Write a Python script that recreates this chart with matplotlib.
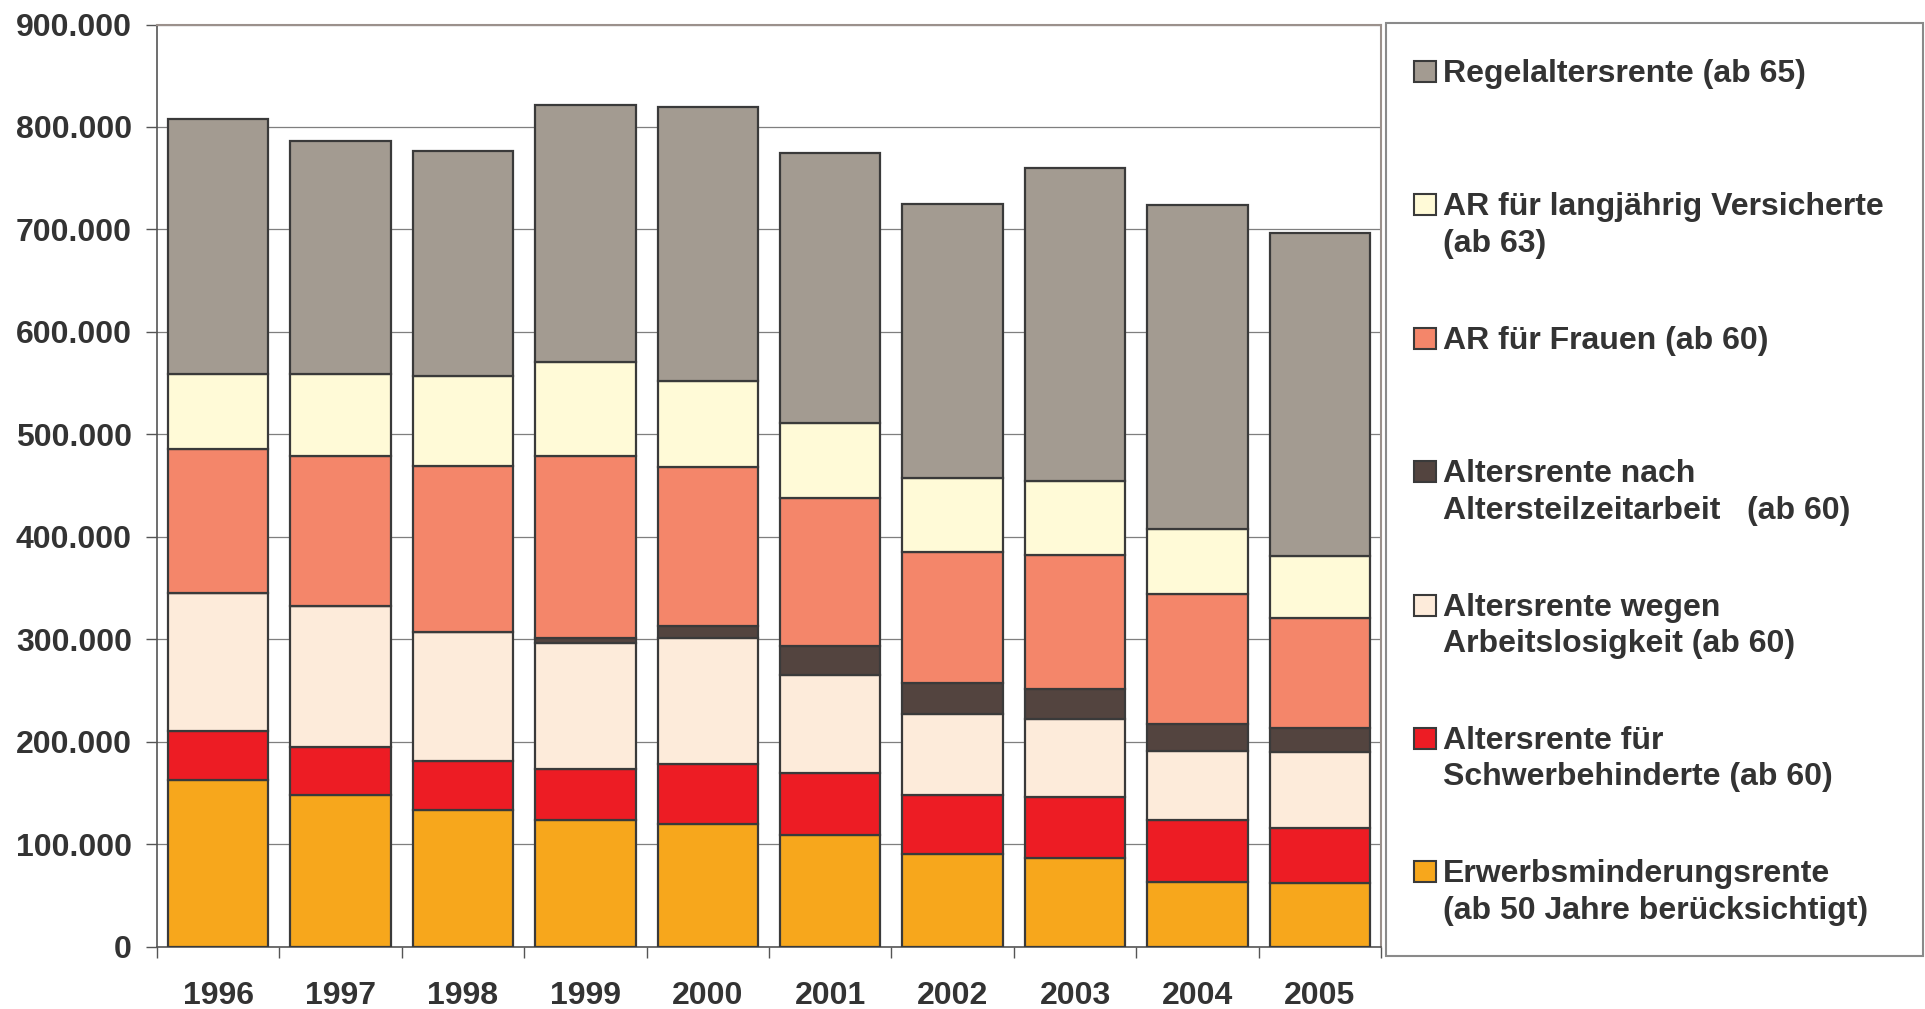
import matplotlib
matplotlib.use('Agg')
import matplotlib.pyplot as plt
from matplotlib.patches import Rectangle
from matplotlib.ticker import FuncFormatter
import numpy as np

# ---------------- data (values in persons) ----------------
years = ['1996', '1997', '1998', '1999', '2000', '2001', '2002', '2003', '2004', '2005']
erwerbsminderung = [163000, 148000, 133000, 123000, 120000, 109000, 90000, 86000, 63000, 62000]
schwerbehinderte = [47000, 47000, 48000, 50000, 58000, 60000, 58000, 60000, 60000, 54000]
arbeitslosigkeit = [135000, 137000, 126000, 123000, 123000, 96000, 79000, 76000, 68000, 74000]
altersteilzeit = [0, 0, 0, 5000, 12000, 28000, 30000, 29000, 26000, 23000]
frauen = [141000, 147000, 162000, 178000, 155000, 145000, 128000, 131000, 127000, 108000]
langjaehrig = [73000, 80000, 88000, 92000, 84000, 73000, 72000, 72000, 64000, 60000]
regel = [249000, 227000, 220000, 250000, 267000, 264000, 268000, 306000, 316000, 315000]

labels = {
    'regel': ['Regelaltersrente (ab 65)'],
    'langjaehrig': ['AR für langjährig Versicherte', '(ab 63)'],
    'frauen': ['AR für Frauen (ab 60)'],
    'altersteilzeit': ['Altersrente nach', 'Altersteilzeitarbeit   (ab 60)'],
    'arbeitslosigkeit': ['Altersrente wegen', 'Arbeitslosigkeit (ab 60)'],
    'schwerbehinderte': ['Altersrente für', 'Schwerbehinderte (ab 60)'],
    'erwerbsminderung': ['Erwerbsminderungsrente', '(ab 50 Jahre berücksichtigt)'],
}
colors = {
    'erwerbsminderung': '#F7A71C',
    'schwerbehinderte': '#ED1C24',
    'arbeitslosigkeit': '#FDEBDA',
    'altersteilzeit': '#53443F',
    'frauen': '#F4866A',
    'langjaehrig': '#FFFAD7',
    'regel': '#A39B91',
}
series = {
    'erwerbsminderung': erwerbsminderung,
    'schwerbehinderte': schwerbehinderte,
    'arbeitslosigkeit': arbeitslosigkeit,
    'altersteilzeit': altersteilzeit,
    'frauen': frauen,
    'langjaehrig': langjaehrig,
    'regel': regel,
}
stack_order = ['erwerbsminderung', 'schwerbehinderte', 'arbeitslosigkeit',
               'altersteilzeit', 'frauen', 'langjaehrig', 'regel']
legend_order = ['regel', 'langjaehrig', 'frauen', 'altersteilzeit',
                'arbeitslosigkeit', 'schwerbehinderte', 'erwerbsminderung']

FONT = ['Liberation Sans', 'DejaVu Sans']
TXT = '#333333'
EDGE = '#3A3A3A'
FS = 23

W, H = 1925, 1009
fig = plt.figure(figsize=(W / 100, H / 100), dpi=100)
fig.patch.set_facecolor('white')

left, right, top, bottom = 157, 1381, 24.5, 946.5
ax = fig.add_axes([left / W, 1 - bottom / H, (right - left) / W, (bottom - top) / H])

x = np.arange(len(years))
base = np.zeros(len(years))
for key in stack_order:
    vals = np.array(series[key], dtype=float)
    ax.bar(x, vals, bottom=base, width=0.82, color=colors[key],
           edgecolor=EDGE, linewidth=1.6, zorder=3)
    base += vals

ax.set_xlim(-0.5, len(years) - 0.5)
ax.set_ylim(0, 900000)
ax.set_yticks(np.arange(0, 900001, 100000))
ax.yaxis.set_major_formatter(FuncFormatter(lambda v, p: f'{int(v):,}'.replace(',', '.')))
ax.yaxis.grid(True, color='#7F7F7F', linewidth=0.9, zorder=0)
ax.set_axisbelow(True)

ax.set_xticks(x)
ax.set_xticklabels(years)
ax.set_xticks(np.arange(-0.5, len(years), 1), minor=True)
ax.tick_params(axis='x', which='major', length=0, pad=25, labelsize=FS, labelcolor=TXT)
ax.tick_params(axis='x', which='minor', length=8, width=1, color='#555555')
ax.tick_params(axis='y', length=8, width=1, color='#555555', pad=10,
               labelsize=FS, labelcolor=TXT)
for lab in ax.get_xticklabels() + ax.get_yticklabels():
    lab.set_fontfamily(FONT)
    lab.set_fontweight('bold')

for s in ['top', 'right']:
    ax.spines[s].set_color('#9B918C')
    ax.spines[s].set_linewidth(1.5)
for s in ['left', 'bottom']:
    ax.spines[s].set_color('#555555')
    ax.spines[s].set_linewidth(1.2)

# ---------------- legend (manual) ----------------
fig.add_artist(Rectangle((1386 / W, 1 - 956 / H), (1923 - 1386) / W, (956 - 22.5) / H,
                         transform=fig.transFigure, facecolor='none',
                         edgecolor='#8A8A8A', linewidth=1.5))
first_center = 71.0
step = 133.4
line_gap = 36.5
for i, key in enumerate(legend_order):
    c = first_center + step * i
    baseline = c + 11
    fig.add_artist(Rectangle((1414 / W, 1 - baseline / H), 22 / W, 21 / H,
                             transform=fig.transFigure, facecolor=colors[key],
                             edgecolor=EDGE, linewidth=1.5))
    for j, line in enumerate(labels[key]):
        fig.text(1443 / W, 1 - (baseline + j * line_gap) / H, line,
                 fontsize=FS, fontweight='bold', family=FONT, color=TXT,
                 ha='left', va='baseline')

fig.savefig('out.png', dpi=100, facecolor='white')
